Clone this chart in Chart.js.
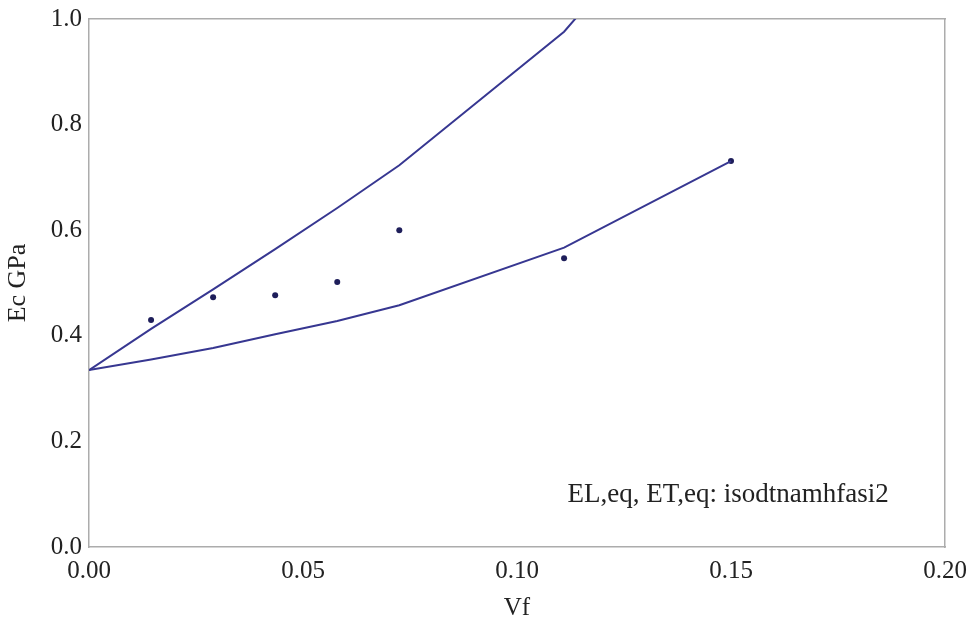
<!DOCTYPE html>
<html>
<head>
<meta charset="utf-8">
<script src="https://cdn.jsdelivr.net/npm/chart.js@4.4.1/dist/chart.umd.min.js"></script>
<style>
  html, body { margin: 0; padding: 0; background: #fff; }
  #wrap { width: 969px; height: 626px; }
</style>
</head>
<body>
<div id="wrap"><canvas id="myChart"></canvas></div>
<script>
// model curves (upper / lower bound) and test points
var vf = [0, 0.0145, 0.029, 0.0435, 0.058, 0.0725, 0.111, 0.15]
var upperEc = [0.335, 0.413, 0.488, 0.564, 0.642, 0.723, 0.976, 1.34]
var lowerEc = [0.335, 0.355, 0.377, 0.403, 0.428, 0.458, 0.567, 0.731]

var testVf = [0.0145, 0.029, 0.0435, 0.058, 0.0725, 0.111, 0.15]
var testEc = [0.43, 0.473, 0.477, 0.502, 0.600, 0.547, 0.731]

var xTicks = [0, 0.05, 0.10, 0.15, 0.20]
var yTicks = [0, 0.2, 0.4, 0.6, 0.8, 1.0]

var noteText = 'EL,eq, ET,eq: isodtnamhfasi2'

var FONT = 'Liberation Serif'
var TEXT = '#222'
var LINE = 'rgb(55, 55, 145)'
var FRAME = '#acacac'

function toPoints(xs, ys) {
  return xs.map(function (x, i) { return { x: x, y: ys[i] } })
}

// text in the lower right of the plot
var notePlugin = {
  id: 'note',
  afterDatasetsDraw: function (chart) {
    var ctx = chart.ctx
    var xs = chart.scales.x, ys = chart.scales.y
    ctx.save()
    ctx.font = '27px "' + FONT + '"'
    ctx.fillStyle = TEXT
    ctx.textAlign = 'left'
    ctx.textBaseline = 'middle'
    ctx.fillText(noteText, xs.getPixelForValue(0.1118), ys.getPixelForValue(0.098))
    ctx.restore()
  }
}

function noPad(s) {
  s.paddingLeft = 0; s.paddingRight = 0; s.paddingTop = 0; s.paddingBottom = 0
}

function updateChart() {
  var ctx = document.getElementById('myChart').getContext('2d')
  var chart = new Chart(ctx, {
    type: 'scatter',
    data: {
      datasets: [{
        label: 'upper',
        data: toPoints(vf, upperEc),
        showLine: true,
        borderColor: LINE,
        borderWidth: 2,
        pointRadius: 0,
        tension: 0
      }, {
        label: 'lower',
        data: toPoints(vf, lowerEc),
        showLine: true,
        borderColor: LINE,
        borderWidth: 2,
        pointRadius: 0,
        tension: 0
      }, {
        label: 'test',
        data: toPoints(testVf, testEc),
        backgroundColor: 'rgb(30, 30, 90)',
        borderWidth: 0,
        pointRadius: 3
      }]
    },
    options: {
      responsive: true,
      maintainAspectRatio: false,
      animation: false,
      layout: { padding: { top: 19, right: 24, left: 0, bottom: 0 } },
      plugins: { legend: { display: false }, tooltip: { enabled: false } },
      scales: {
        x: {
          type: 'linear', position: 'bottom', min: 0, max: 0.2,
          afterBuildTicks: function (s) { s.ticks = xTicks.map(function (v) { return { value: v } }) },
          afterFit: function (s) { s.height = 79; noPad(s) },
          grid: { display: false, drawTicks: false },
          border: { display: true, color: FRAME, width: 1.5 },
          ticks: {
            padding: 9, color: TEXT, font: { family: FONT, size: 25 },
            maxRotation: 0,
            callback: function (v) { return v.toFixed(2) }
          },
          title: { display: true, text: 'Vf', color: TEXT, font: { family: FONT, size: 25 }, padding: { top: 0, bottom: 3 } }
        },
        y: {
          type: 'linear', position: 'left', min: 0, max: 1,
          afterBuildTicks: function (s) { s.ticks = yTicks.map(function (v) { return { value: v } }) },
          afterFit: function (s) { s.width = 89; noPad(s) },
          grid: { display: false, drawTicks: false },
          border: { display: true, color: FRAME, width: 1.5 },
          ticks: {
            padding: 7, color: TEXT, font: { family: FONT, size: 25 },
            callback: function (v) { return v.toFixed(1) }
          },
          title: { display: true, text: 'Ec GPa', color: TEXT, font: { family: FONT, size: 26 }, padding: { top: 3, bottom: 0 } }
        },
        xTop: {
          type: 'linear', position: 'top', min: 0, max: 0.2,
          afterFit: function (s) { s.height = 0; noPad(s) },
          grid: { display: false, drawTicks: false },
          border: { display: true, color: FRAME, width: 1.5 },
          ticks: { display: false }
        },
        yRight: {
          type: 'linear', position: 'right', min: 0, max: 1,
          afterFit: function (s) { s.width = 0; noPad(s) },
          grid: { display: false, drawTicks: false },
          border: { display: true, color: FRAME, width: 1.5 },
          ticks: { display: false }
        }
      }
    },
    plugins: [notePlugin]
  })
}

updateChart()
</script>
</body>
</html>
